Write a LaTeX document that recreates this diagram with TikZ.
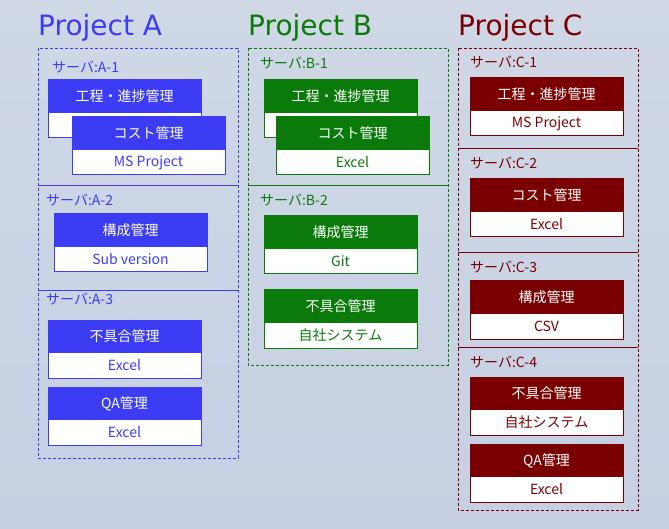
\documentclass[tikz,border=0pt]{standalone}
\usepackage{fontspec}
\setmainfont{DejaVu Sans}
\newfontfamily\jp{Noto Sans CJK JP}
\usetikzlibrary{calc}
\definecolor{pa}{HTML}{3C3CF5}
\definecolor{pb}{HTML}{0A7A0A}
\definecolor{pc}{HTML}{7A0000}
\definecolor{bgtop}{HTML}{D0D8E6}
\definecolor{bgbot}{HTML}{C6D0E2}
\tikzset{
	projbox/.style={draw=#1, densely dashed, line width=.6pt},
	divline/.style={draw=#1, line width=.6pt},
	srvlabel/.style={anchor=west, text=#1, font=\jp\fontsize{14}{14}\selectfont, inner sep=0pt},
	projtitle/.style={anchor=west, text=#1, font=\fontsize{28}{28}\selectfont, inner sep=0pt}
}
% module box: color, x, y (top left), header, body
\newcommand{\module}[5]{
	\filldraw[draw=#1, fill=white, line width=1pt] (#2,#3) rectangle ++(153,58);
	\fill[#1] (#2,#3) rectangle ++(153,33);
	\node[text=white, font=\jp\fontsize{14}{14}\selectfont] at ($(#2,#3)+(76.5,16.5)$) {#4};
	\node[text=#1, font=\jp\fontsize{14}{14}\selectfont] at ($(#2,#3)+(76.5,45.5)$) {#5};
}
\begin{document}
\begin{tikzpicture}[x=1pt, y=-1pt]
	\shade[top color=bgtop, bottom color=bgbot] (0,0) rectangle (669,529);
	\useasboundingbox (0,0) rectangle (669,529);
%
	\node[projtitle=pa] (ta) at (38,28) {Project A};
	\draw[projbox=pa] (38,48) rectangle (238,458);
	\draw[divline=pa] (38,185) -- (238,185);
	\draw[divline=pa] (38,290) -- (238,290);
	\node[srvlabel=pa] (sa1) at (52,67) {サーバ:A-1};
	\module{pa}{48}{80}{工程・進捗管理}{}
	\module{pa}{72}{117}{コスト管理}{MS Project}
	\node[srvlabel=pa] (sa2) at (46,200) {サーバ:A-2};
	\module{pa}{54}{214}{構成管理}{Sub version}
	\node[srvlabel=pa] (sa3) at (46,299) {サーバ:A-3};
	\module{pa}{48}{320}{不具合管理}{Excel}
	\module{pa}{48}{387}{QA管理}{Excel}
%
	\node[projtitle=pb] (tb) at (248,28) {Project B};
	\draw[projbox=pb] (248,48) rectangle (448,365);
	\draw[divline=pb] (248,185) -- (448,185);
	\node[srvlabel=pb] (sb1) at (260,63) {サーバ:B-1};
	\module{pb}{264}{80}{工程・進捗管理}{}
	\module{pb}{276}{117}{コスト管理}{Excel}
	\node[srvlabel=pb] (sb2) at (260,200) {サーバ:B-2};
	\module{pb}{264}{216}{構成管理}{Git}
	\module{pb}{264}{290}{不具合管理}{自社システム}
%
	\node[projtitle=pc] (tc) at (458,28) {Project C};
	\draw[projbox=pc] (458,48) rectangle (638,510);
	\draw[divline=pc] (458,148) -- (638,148);
	\draw[divline=pc] (458,252) -- (638,252);
	\draw[divline=pc] (458,347) -- (638,347);
	\node[srvlabel=pc] (sc1) at (470,62) {サーバ:C-1};
	\module{pc}{470}{78}{工程・進捗管理}{MS Project}
	\node[srvlabel=pc] (sc2) at (470,163) {サーバ:C-2};
	\module{pc}{470}{179}{コスト管理}{Excel}
	\node[srvlabel=pc] (sc3) at (470,267) {サーバ:C-3};
	\module{pc}{470}{281}{構成管理}{CSV}
	\node[srvlabel=pc] (sc4) at (470,362) {サーバ:C-4};
	\module{pc}{470}{377}{不具合管理}{自社システム}
	\module{pc}{470}{444}{QA管理}{Excel}
\end{tikzpicture}
\end{document}
